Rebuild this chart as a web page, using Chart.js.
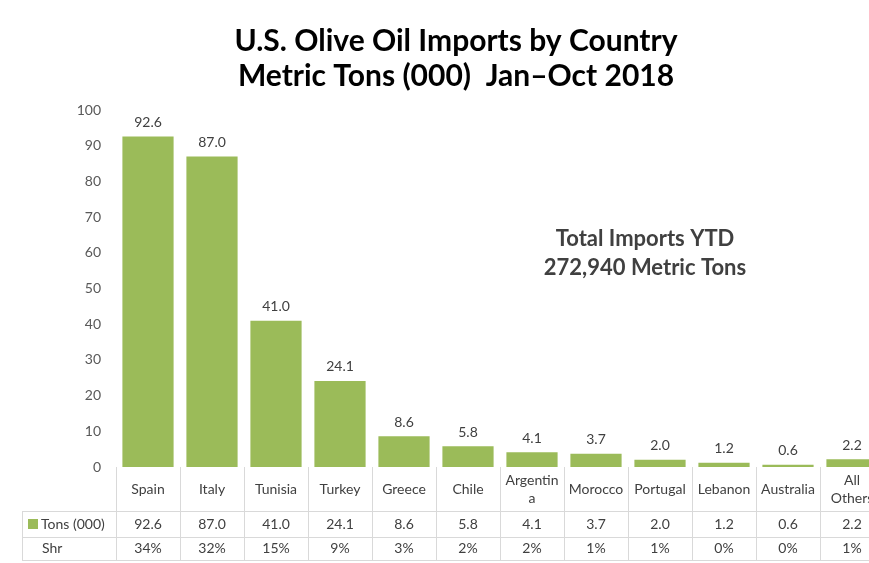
<!DOCTYPE html>
<html>
<head>
<meta charset="utf-8">
<script src="https://cdn.jsdelivr.net/npm/chart.js@4/dist/chart.umd.min.js"></script>
<style>
  html, body { margin: 0; padding: 0; background: #fff; overflow: hidden; }
  #wrap { position: absolute; left: 0; top: 0; width: 900px; height: 563px; }
</style>
</head>
<body>
<div id="wrap"><canvas id="chart" width="900" height="563"></canvas></div>
<script>
  const countries = ["Spain", "Italy", "Tunisia", "Turkey", "Greece", "Chile",
    ["Argentin", "a"], "Morocco", "Portugal", "Lebanon", "Australia", ["All", "Others"]];
  const tons = [92.6, 87.0, 41.0, 24.1, 8.6, 5.8, 4.1, 3.7, 2.0, 1.2, 0.6, 2.2];
  const shares = ["34%", "32%", "15%", "9%", "3%", "2%", "2%", "1%", "1%", "0%", "0%", "1%"];
  const titleLines = ["U.S. Olive Oil Imports by Country", "Metric Tons (000)  Jan\u2013Oct 2018"];
  const noteLines = ["Total Imports YTD", "272,940 Metric Tons"];

  const FONT = "Lato, 'Open Sans', sans-serif";
  const green = "#9bbb59";
  const lineColor = "#d9d9d9";
  const textColor = "#404040";

  // title, annotation, bar value labels and the data table underneath
  const extras = {
    id: "extras",
    afterDraw(chart) {
      const ctx = chart.ctx;
      const x = chart.scales.x;
      const area = chart.chartArea;
      ctx.save();

      ctx.fillStyle = "#000";
      ctx.textAlign = "center";
      ctx.textBaseline = "middle";
      ctx.font = "bold 30px " + FONT;
      ctx.fillText(titleLines[0], 456, 41);
      ctx.fillText(titleLines[1], 456, 76);

      ctx.fillStyle = textColor;
      ctx.font = "bold 22px " + FONT;
      ctx.fillText(noteLines[0], 645, 239);
      ctx.fillText(noteLines[1], 645, 268);

      // value labels above bars
      ctx.font = "14px " + FONT;
      const meta = chart.getDatasetMeta(0);
      meta.data.forEach((bar, i) => {
        ctx.fillText(tons[i].toFixed(1), bar.x, bar.y - 14);
      });

      // table
      const colW = x.getPixelForValue(1) - x.getPixelForValue(0);
      const top = area.bottom;
      const r1 = top + 44, r2 = r1 + 26, r3 = r2 + 23;
      const left = 22;
      ctx.strokeStyle = lineColor;
      ctx.lineWidth = 1;
      ctx.beginPath();
      [r1, r2, r3].forEach(y => {
        ctx.moveTo(left, Math.round(y) + 0.5);
        ctx.lineTo(chart.width, Math.round(y) + 0.5);
      });
      for (let i = 0; i <= countries.length; i++) {
        const cx = Math.round(area.left + i * colW) + 0.5;
        ctx.moveTo(cx, top);
        ctx.lineTo(cx, r3);
      }
      ctx.moveTo(left + 0.5, r1);
      ctx.lineTo(left + 0.5, r3);
      ctx.stroke();

      ctx.fillStyle = textColor;
      ctx.font = "14px " + FONT;
      countries.forEach((c, i) => {
        const cx = x.getPixelForValue(i);
        const lines = Array.isArray(c) ? c : [c];
        const mid = (top + r1) / 2;
        lines.forEach((t, k) => {
          ctx.fillText(t, cx, mid + (k - (lines.length - 1) / 2) * 18);
        });
        ctx.fillText(tons[i].toFixed(1), cx, (r1 + r2) / 2);
        ctx.fillText(shares[i], cx, (r2 + r3) / 2);
      });

      ctx.fillStyle = green;
      ctx.fillRect(28, (r1 + r2) / 2 - 5, 10, 10);
      ctx.fillStyle = textColor;
      ctx.textAlign = "left";
      ctx.fillText("Tons (000)", 41, (r1 + r2) / 2);
      ctx.fillText("Shr", 42, (r2 + r3) / 2);
      ctx.restore();
    }
  };

  new Chart(document.getElementById("chart"), {
    type: "bar",
    data: {
      labels: countries,
      datasets: [{
        label: "Tons (000)",
        data: tons,
        backgroundColor: green,
        barPercentage: 0.8,
        categoryPercentage: 1.0
      }]
    },
    options: {
      responsive: false,
      animation: false,
      layout: { padding: { left: 0, right: 16, top: 110, bottom: 96 } },
      plugins: {
        legend: { display: false },
        tooltip: { enabled: false }
      },
      scales: {
        x: {
          display: false,
          grid: { display: false }
        },
        y: {
          min: 0,
          max: 100,
          afterFit: s => { s.width = 116; },
          border: { display: false },
          grid: { display: false, drawTicks: false },
          ticks: {
            stepSize: 10,
            padding: 15,
            color: "#595959",
            font: { family: FONT, size: 14 }
          }
        }
      }
    },
    plugins: [extras]
  });
</script>
</body>
</html>
